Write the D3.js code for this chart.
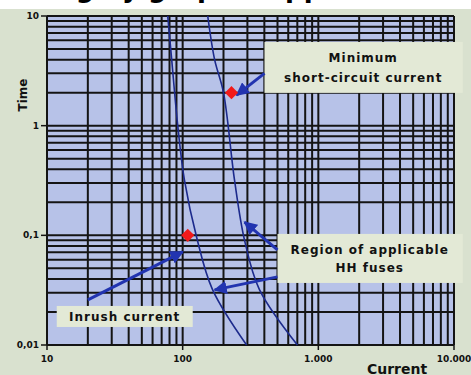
<!DOCTYPE html>
<html>
<head>
<meta charset="utf-8">
<script src="https://cdn.jsdelivr.net/npm/d3@7"></script>
<style>
  html, body { margin: 0; padding: 0; background: #d9e1cf; }
  svg { display: block; }
  text { font-family: "DejaVu Sans", Arial, sans-serif; font-weight: bold; }
</style>
</head>
<body>
<div id="chart"></div>
<script>
// Axis values and labels
var xTickValues = [10, 100, 1000, 10000];
var xTickLabels = ["10", "100", "1.000", "10.000"];
var yTickValues = [0.01, 0.1, 1, 10];
var yTickLabels = ["0,01", "0,1", "1", "10"];

// Fuse curves, [current, time]
var leftCurve = [[77.6, 10], [83, 4], [92, 1], [103, 0.32], [127, 0.095], [166, 0.032], [296, 0.01]];
var rightCurve = [[153, 10], [172, 4], [200, 2], [241, 0.32], [286, 0.09], [368, 0.032], [701, 0.01]];

// Red markers
var markers = [[109, 0.1], [229, 2]];

// Arrows: from [current, time] to [current, time]
var arrows = [
    [[401, 3.0], [250, 1.9]],
    [[20, 0.0258], [100, 0.0706]],
    [[500, 0.0736], [286, 0.132]],
    [[500, 0.0418], [172, 0.0318]]
];

// Annotation boxes: left/right current, top/bottom time
var boxes = [
    { x0: 401, x1: 11600, t0: 5.8, t1: 1.99, lines: ["Minimum", "short-circuit current"] },
    { x0: 500, x1: 11600, t0: 0.103, t1: 0.0368, lines: ["Region of applicable", "HH fuses"] },
    { x0: 11.8, x1: 118.6, t0: 0.0227, t1: 0.0146, lines: ["Inrush current"] }
];

var width = 471;
var height = 375;

var svg = d3.select("#chart").append("svg")
    .attr("width", width)
    .attr("height", height);

var x = d3.scaleLog().domain([10, 10000]).range([47, 454]);
var y = d3.scaleLog().domain([0.01, 10]).range([345, 16]);

// page background and the cut-off heading strip
svg.append("rect").attr("width", width).attr("height", height).attr("fill", "#d9e1cf");
svg.append("defs").append("clipPath").attr("id", "topclip")
    .append("rect").attr("width", width).attr("height", 9);
svg.append("rect").attr("width", width).attr("height", 9).attr("fill", "#ffffff");
svg.append("text")
    .attr("clip-path", "url(#topclip)")
    .attr("x", 205).attr("y", -3)
    .attr("text-anchor", "middle")
    .attr("font-size", 26)
    .attr("fill", "#000")
    .text("Sizing by graphic approach");

// plot area
svg.append("rect")
    .attr("x", x(10)).attr("y", y(10))
    .attr("width", x(10000) - x(10)).attr("height", y(0.01) - y(10))
    .attr("fill", "#b7c2e8");

var grid = svg.append("g").attr("stroke", "#141414").attr("stroke-width", 2);

grid.selectAll(".vline").data(x.ticks()).enter().append("line")
    .attr("x1", function (d) { return x(d); })
    .attr("x2", function (d) { return x(d); })
    .attr("y1", y(10)).attr("y2", y(0.01));

grid.selectAll(".hline").data(y.ticks()).enter().append("line")
    .attr("y1", function (d) { return y(d); })
    .attr("y2", function (d) { return y(d); })
    .attr("x1", x(10)).attr("x2", x(10000));

// small tick marks outside the plot
grid.selectAll(".ytick").data(yTickValues).enter().append("line")
    .attr("stroke-width", 1.5)
    .attr("x1", x(10) - 6).attr("x2", x(10))
    .attr("y1", function (d) { return y(d); })
    .attr("y2", function (d) { return y(d); });

grid.selectAll(".xtick").data(xTickValues).enter().append("line")
    .attr("stroke-width", 1.5)
    .attr("y1", y(0.01)).attr("y2", y(0.01) + 5)
    .attr("x1", function (d) { return x(d); })
    .attr("x2", function (d) { return x(d); });

// tick labels
svg.selectAll(".ylab").data(yTickValues).enter().append("text")
    .attr("x", x(10) - 8)
    .attr("y", function (d) { return y(d) + 3; })
    .attr("text-anchor", "end")
    .attr("font-size", 9)
    .attr("fill", "#111")
    .text(function (d, i) { return yTickLabels[i]; });

svg.selectAll(".xlab").data(xTickValues).enter().append("text")
    .attr("x", function (d) { return x(d); })
    .attr("y", y(0.01) + 17)
    .attr("text-anchor", "middle")
    .attr("font-size", 9)
    .attr("fill", "#111")
    .text(function (d, i) { return xTickLabels[i]; });

// axis titles
svg.append("text")
    .attr("transform", "translate(27,95) rotate(-90)")
    .attr("text-anchor", "middle")
    .attr("font-size", 12)
    .attr("fill", "#111")
    .text("Time");

svg.append("text")
    .attr("x", 397).attr("y", 374)
    .attr("text-anchor", "middle")
    .attr("font-size", 14)
    .attr("fill", "#111")
    .text("Current");

// curves
var line = d3.line()
    .x(function (d) { return x(d[0]); })
    .y(function (d) { return y(d[1]); })
    .curve(d3.curveCatmullRom);

svg.selectAll(".curve").data([leftCurve, rightCurve]).enter().append("path")
    .attr("d", line)
    .attr("fill", "none")
    .attr("stroke", "#1c2a8c")
    .attr("stroke-width", 1.6);

// annotation boxes
var box = svg.selectAll(".box").data(boxes).enter().append("g");

box.append("rect")
    .attr("x", function (d) { return x(d.x0); })
    .attr("y", function (d) { return y(d.t0); })
    .attr("width", function (d) { return x(d.x1) - x(d.x0); })
    .attr("height", function (d) { return y(d.t1) - y(d.t0); })
    .attr("fill", "#e3e9d6");

box.each(function (d) {
    var g = d3.select(this);
    var cx = (Math.min(x(d.x1), 462) + x(d.x0)) / 2;
    var top = y(d.t0), bottom = y(d.t1);
    var n = d.lines.length;
    var step = n > 1 ? (bottom - top) / (n + 0.6) : 0;
    d.lines.forEach(function (s, i) {
        var cy = n > 1 ? top + step * (i + 0.8) : (top + bottom) / 2;
        g.append("text")
            .attr("x", cx)
            .attr("y", cy + 4.5)
            .attr("text-anchor", "middle")
            .attr("font-size", 12)
            .attr("letter-spacing", 1)
            .attr("fill", "#111")
            .text(s);
    });
});

// arrows
var arrowColor = "#2234b0";
svg.append("defs").append("marker")
    .attr("id", "head")
    .attr("viewBox", "0 0 10 10")
    .attr("refX", 9).attr("refY", 5)
    .attr("markerWidth", 4.5).attr("markerHeight", 4.5)
    .attr("orient", "auto")
    .append("path")
    .attr("d", "M0,0L10,5L0,10z")
    .attr("fill", arrowColor);

svg.selectAll(".arrow").data(arrows).enter().append("line")
    .attr("x1", function (d) { return x(d[0][0]); })
    .attr("y1", function (d) { return y(d[0][1]); })
    .attr("x2", function (d) { return x(d[1][0]); })
    .attr("y2", function (d) { return y(d[1][1]); })
    .attr("stroke", arrowColor)
    .attr("stroke-width", 3)
    .attr("marker-end", "url(#head)");

// red markers
svg.selectAll(".marker").data(markers).enter().append("path")
    .attr("transform", function (d) { return "translate(" + x(d[0]) + "," + y(d[1]) + ")"; })
    .attr("d", d3.symbol().type(d3.symbolDiamond2).size(110))
    .attr("fill", "#f21a1a");
</script>
</body>
</html>
